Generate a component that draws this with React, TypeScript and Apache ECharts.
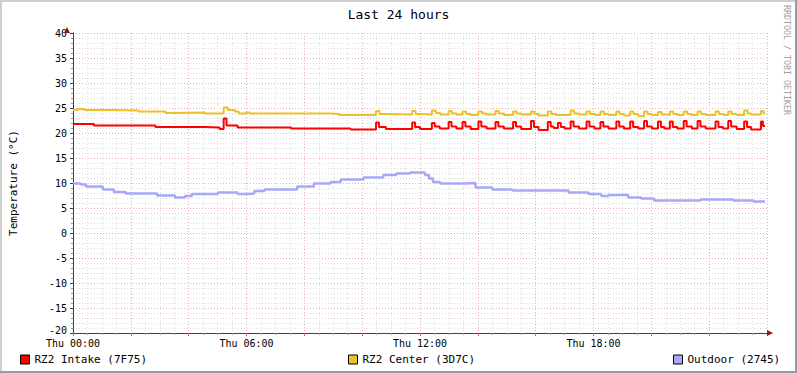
import React, { useEffect, useRef } from 'react';
import * as echarts from 'echarts';

const title = 'Last 24 hours';
const yAxisTitle = 'Temperature (°C)';
const watermark = 'RRDTOOL / TOBI OETIKER';
const dayName = 'Thu';
const xLabelHours = [0, 6, 12, 18];
const yMin = -20;
const yMax = 40;
const seriesNames = ['RZ2 Intake (7F75)', 'RZ2 Center (3D7C)', 'Outdoor (2745)'];

// [hour, °C] change points (step line)
const intake: number[][] = [
  [0, 21.8], [0.72, 21.5], [2.85, 21.2], [4.56, 21.1], [5.07, 20.8], [5.21, 22.9], [5.31, 21.5], [5.69, 21.1], [7.54, 20.9], [9.6, 20.7],
  [10.48, 22.1], [10.58, 21.2], [10.82, 20.8],
  [11.73, 22.1], [11.83, 21.2], [12.0, 20.8],
  [12.41, 22.0], [12.51, 21.3], [12.68, 20.9],
  [12.99, 22.2], [13.09, 21.3], [13.26, 20.9],
  [13.47, 22.2], [13.57, 21.3], [13.75, 20.8],
  [14.02, 22.3], [14.12, 21.3], [14.3, 20.9],
  [14.61, 22.2], [14.71, 21.3], [14.9, 20.9],
  [15.22, 22.2], [15.32, 21.3], [15.5, 20.8],
  [15.84, 22.4], [15.94, 21.2], [16.1, 20.6],
  [16.42, 22.2], [16.52, 21.3], [16.62, 21.0],
  [16.77, 22.0], [16.87, 21.2], [17.0, 20.9],
  [17.21, 22.3], [17.31, 21.3], [17.5, 20.9],
  [17.76, 22.3], [17.86, 21.3], [18.03, 20.9],
  [18.24, 22.2], [18.34, 21.3], [18.52, 20.9],
  [18.79, 22.3], [18.89, 21.3], [19.05, 20.9],
  [19.27, 22.3], [19.37, 21.2], [19.55, 20.9],
  [19.75, 22.4], [19.85, 21.3], [20.02, 20.9],
  [20.23, 22.3], [20.33, 21.2], [20.45, 20.9],
  [20.64, 22.3], [20.74, 21.2], [20.9, 20.9],
  [21.12, 22.4], [21.22, 21.3], [21.4, 20.9],
  [21.6, 22.4], [21.7, 21.3], [21.88, 20.9],
  [22.22, 22.3], [22.32, 21.2], [22.48, 20.9],
  [22.66, 22.4], [22.76, 21.3], [22.95, 20.8],
  [23.21, 22.3], [23.31, 21.2], [23.45, 20.7],
  [23.79, 22.3], [23.86, 21.4], [23.93, 21.4],
];

const center: number[][] = [
  [0, 24.6], [0.17, 24.8], [0.38, 24.6], [1.37, 24.5], [2.26, 24.3], [3.2, 24.0], [3.53, 24.1], [4.56, 23.9],
  [5.21, 25.1], [5.35, 24.6], [5.6, 24.3], [5.73, 23.9], [5.98, 24.1], [6.1, 23.9], [8.9, 23.8], [9.2, 23.6],
  [10.48, 24.4], [10.6, 23.8], [10.8, 23.7],
  [11.73, 24.4], [11.85, 23.8], [12.1, 23.7],
  [12.41, 24.5], [12.55, 24.0], [12.7, 23.7],
  [12.99, 24.4], [13.1, 23.9], [13.26, 23.7],
  [13.47, 24.3], [13.6, 23.8], [13.75, 23.6],
  [14.02, 24.3], [14.15, 23.9], [14.3, 23.7],
  [14.61, 24.4], [14.72, 23.9], [14.9, 23.6],
  [15.22, 24.3], [15.34, 23.9], [15.5, 23.7],
  [15.84, 24.3], [15.96, 23.8], [16.1, 23.5],
  [16.42, 24.3], [16.55, 23.8], [16.7, 23.6],
  [17.21, 24.5], [17.33, 23.9], [17.5, 23.7],
  [17.76, 24.3], [17.88, 23.8], [18.05, 23.6],
  [18.24, 24.3], [18.36, 23.8], [18.52, 23.6],
  [18.79, 24.3], [18.9, 23.8], [19.05, 23.5],
  [19.27, 24.3], [19.38, 23.8], [19.55, 23.4],
  [19.75, 24.3], [19.87, 23.8], [20.02, 23.6],
  [20.23, 24.2], [20.35, 23.7], [20.5, 23.6],
  [20.64, 24.3], [20.76, 23.8], [20.9, 23.6],
  [21.12, 24.3], [21.24, 23.8], [21.4, 23.6],
  [21.6, 24.3], [21.72, 23.8], [21.88, 23.6],
  [22.22, 24.3], [22.34, 23.8], [22.5, 23.6],
  [22.66, 24.3], [22.78, 23.8], [22.95, 23.6],
  [23.21, 24.5], [23.33, 23.9], [23.45, 23.7],
  [23.79, 24.4], [23.88, 23.9], [23.93, 23.9],
];

const outdoor: number[][] = [
  [0, 9.9], [0.27, 9.7], [0.45, 9.3], [1.03, 8.7], [1.41, 8.2], [1.82, 7.9], [2.91, 7.5], [3.53, 7.1], [3.87, 7.4],
  [4.11, 7.8], [5.01, 8.1], [5.69, 7.8], [6.0, 7.9], [6.27, 8.4], [6.62, 8.7], [7.75, 9.3], [8.33, 9.9], [8.91, 10.2],
  [9.26, 10.7], [10.05, 11.1], [10.73, 11.6], [11.18, 11.9], [11.66, 12.1], [12.17, 11.6], [12.31, 10.9], [12.45, 10.2],
  [12.69, 9.9], [13.58, 10.0], [13.92, 9.1], [14.5, 8.7], [15.19, 8.5], [17.14, 8.1], [17.83, 7.8], [18.27, 7.4],
  [18.51, 7.6], [19.2, 7.1], [19.65, 6.9], [20.09, 6.5], [21.7, 6.7], [22.83, 6.5], [23.52, 6.3], [23.93, 6.3],
];

const seriesColors = ['#FF0000', '#EAC12A', '#A8A8F8'];
const FONT = 'DejaVu Sans Mono';
const minorGrid = '#DDDDDD';
const majorGrid = '#EBB0B0';
const axisColor = '#404040';
const arrowColor = '#8B1A1A';

export default function App() {
  const ref = useRef<HTMLDivElement>(null);
  useEffect(() => {
    const chart = echarts.init(ref.current!, null, { renderer: 'svg' });
    const gridLeft = 67, gridTop = 33, gridW = 700, gridH = 300;
    const baseX = { type: 'value', min: 0, max: 24, position: 'bottom', gridIndex: 0 };
    const baseY = { type: 'value', min: yMin, max: yMax, position: 'left', gridIndex: 0 };
    const pad = (n: number) => (n < 10 ? '0' + n : '' + n);
    const legendLefts = [15, 343, 668];
    chart.setOption({
      animation: false,
      backgroundColor: '#FFFFFF',
      textStyle: { fontFamily: FONT },
      title: {
        text: title, left: 'center', top: 3,
        textStyle: { fontFamily: FONT, fontSize: 13, fontWeight: 'normal', color: '#000' },
      },
      grid: { left: gridLeft, top: gridTop, width: gridW, height: gridH, containLabel: false },
      legend: seriesNames.map((n, i) => ({
        data: [n], left: legendLefts[i], top: 349, icon: 'rect', itemWidth: 9, itemHeight: 9,
        itemStyle: { borderColor: '#000', borderWidth: 1 },
        textStyle: { fontFamily: FONT, fontSize: 11, color: '#000' },
        selectedMode: false,
      })),
      xAxis: [
        {
          ...baseX, interval: 0.5,
          axisLine: { show: false, onZero: false }, axisLabel: { show: false },
          axisTick: { show: true, length: 2, lineStyle: { color: '#999' } },
          splitLine: { show: true, lineStyle: { color: minorGrid, type: [1, 2], width: 1 } },
        },
        {
          ...baseX, interval: 2,
          axisLine: { show: false, onZero: false }, axisLabel: { show: false },
          axisTick: { show: true, length: 3, lineStyle: { color: '#E06060' } },
          splitLine: { show: true, lineStyle: { color: majorGrid, type: [1, 2], width: 1 } },
        },
        {
          ...baseX, interval: 6,
          axisLine: { show: true, onZero: false, lineStyle: { color: axisColor, width: 1 } },
          axisTick: { show: false },
          splitLine: { show: false },
          axisLabel: {
            show: true, margin: 5, fontFamily: FONT, fontSize: 10, lineHeight: 10, color: '#000',
            formatter: (v: number) => (xLabelHours.includes(v) ? `${dayName} ${pad(v)}:00` : ''),
          },
        },
      ],
      yAxis: [
        {
          ...baseY, interval: 1,
          axisLine: { show: false, onZero: false }, axisLabel: { show: false },
          axisTick: { show: true, length: 2, lineStyle: { color: '#999' } },
          splitLine: { show: true, lineStyle: { color: minorGrid, type: [1, 2], width: 1 } },
        },
        {
          ...baseY, interval: 5,
          axisLine: { show: true, onZero: false, lineStyle: { color: axisColor, width: 1 } },
          axisTick: { show: true, length: 3, lineStyle: { color: axisColor } },
          splitLine: { show: true, lineStyle: { color: majorGrid, type: [1, 2], width: 1 } },
          axisLabel: {
            show: true, margin: 6, fontFamily: FONT, fontSize: 10, lineHeight: 10, color: '#000',
            formatter: (v: number) => (v === yMin ? `{low|${v}}` : `${v}`),
            rich: { low: { fontFamily: FONT, fontSize: 10, lineHeight: 10, padding: [0, 0, 5, 0] } },
          },
          name: yAxisTitle, nameLocation: 'middle', nameGap: 54, nameRotate: 90,
          nameTextStyle: { fontFamily: FONT, fontSize: 11, color: '#000' },
        },
      ],
      series: [intake, center, outdoor].map((d, i) => ({
        name: seriesNames[i], type: 'line', step: 'end', data: d,
        xAxisIndex: 0, yAxisIndex: 0, showSymbol: false, symbol: 'none',
        color: seriesColors[i],
        lineStyle: { color: seriesColors[i], width: i === 2 ? 2.4 : 2 },
        z: 5 + i,
      })),
      graphic: [
        { type: 'rect', shape: { x: 0, y: 0, width: 797, height: 2 }, style: { fill: '#CFCFCF' }, silent: true },
        { type: 'rect', shape: { x: 0, y: 0, width: 2, height: 373 }, style: { fill: '#CFCFCF' }, silent: true },
        { type: 'rect', shape: { x: 0, y: 371, width: 797, height: 2 }, style: { fill: '#9A9A9A' }, silent: true },
        { type: 'rect', shape: { x: 795, y: 0, width: 2, height: 373 }, style: { fill: '#9A9A9A' }, silent: true },
        { type: 'polygon', shape: { points: [[767, 330], [773, 333], [767, 336]] }, style: { fill: arrowColor }, silent: true, z: 10 },
        { type: 'polygon', shape: { points: [[64, 33], [67, 27], [70, 33]] }, style: { fill: arrowColor }, silent: true, z: 10 },
        {
          type: 'text', x: 787, y: 5, rotation: -Math.PI / 2,
          style: { text: watermark, fill: '#A0A0A0', font: `8.3px "${FONT}"`, textAlign: 'left', textVerticalAlign: 'middle' },
          silent: true,
        },
      ],
    });
    return () => chart.dispose();
  }, []);
  return <div ref={ref} style={{ position: 'absolute', left: 0, top: 0, width: 797, height: 373 }} />;
}
